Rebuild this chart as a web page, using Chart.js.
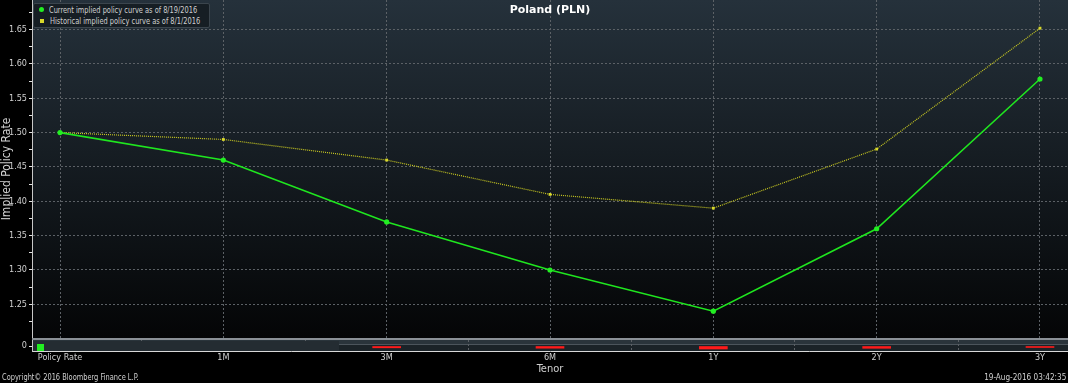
<!DOCTYPE html>
<html>
<head>
<meta charset="utf-8">
<script src="https://cdn.jsdelivr.net/npm/chart.js@4/dist/chart.umd.min.js"></script>
<style>
  html, body { margin: 0; padding: 0; background: #000; }
  body { width: 1068px; height: 383px; overflow: hidden; position: relative;
         font-family: "DejaVu Sans Condensed", sans-serif; color: #d0d0d0; }
  #top { position: absolute; left: 0; top: 0; width: 1068px; height: 338px; }
  #band { position: absolute; left: 32px; top: 338px; width: 1036px; height: 2px; background: #8a9096; }
  #bot { position: absolute; left: 0; top: 340px; width: 1068px; height: 36px; }
  .nar { display: inline-block; transform: scaleX(0.82); transform-origin: 0 50%; white-space: nowrap; }
  #legend { position: absolute; left: 33px; top: 3px; width: 177px; height: 25px;
            background: #161e24; border: 1px solid #3b454d; border-radius: 2px;
            font-size: 9px; line-height: 11px; padding: 1px 0 0 5px; box-sizing: border-box; }
  #legend .row { white-space: nowrap; height: 11px; }
  #legend .dot { display: inline-block; width: 5px; height: 5px; border-radius: 50%;
                 background: #22ee22; margin-right: 5px; vertical-align: 1px; }
  #legend .sq { display: inline-block; width: 4px; height: 4px; background: #d8d82a;
                margin: 0 6px 0 1px; vertical-align: 1px; }
  #chg { position: absolute; left: 33px; top: 341px; width: 306px; height: 10px; overflow: hidden;
         background: #242c32; font-size: 9px; line-height: 10px; padding-left: 4px; box-sizing: border-box; }
  #chg .sw { display: inline-block; width: 7px; height: 7px; background: #22ee22; margin-right: 4px;
             position: relative; top: 3px; vertical-align: top; }
  #chg .t { position: relative; top: 5px; vertical-align: top; }
  #copy { position: absolute; left: 2px; top: 372px; font-size: 9px; }
  #stamp { position: absolute; right: 2px; top: 372px; font-size: 9px; text-align: right; }
  #stamp .nar { transform-origin: 100% 50%; transform: scaleX(0.9); }
</style>
</head>
<body>
<div id="top"><canvas id="c1"></canvas></div>
<div id="band"></div>
<div id="bot"><canvas id="c2"></canvas></div>
<div id="legend">
  <div class="row"><span class="dot"></span><span class="nar">Current implied policy curve as of 8/19/2016</span></div>
  <div class="row"><span class="sq"></span><span class="nar">Historical implied policy curve as of 8/1/2016</span></div>
</div>
<div id="chg"><span class="sw"></span><span class="t nar">Change in implied policy between current and historical selected date (Basis Points)</span></div>
<div id="copy"><span class="nar">Copyright© 2016 Bloomberg Finance L.P.</span></div>
<div id="stamp"><span class="nar">19-Aug-2016 03:42:35</span></div>
<script>
// tenors along the x axis
const tenors = ["Policy Rate", "1M", "3M", "6M", "1Y", "2Y", "3Y"];
// implied policy rate (%)
const current = [1.50, 1.46, 1.37, 1.30, 1.24, 1.36, 1.578];
const historical = [1.50, 1.49, 1.46, 1.41, 1.39, 1.476, 1.652];
// change current - historical (basis points)
const changeBp = [0, -3, -9, -11, -15, -11.5, -7.4];
const yTicks = [1.25, 1.30, 1.35, 1.40, 1.45, 1.50, 1.55, 1.60, 1.65];

const FONT = "'DejaVu Sans Condensed', sans-serif";
const TXT = "#d0d0d0";
const GRID = "#5c6166";
const X_MIN = -0.1715, X_MAX = 6.1715;

const pts = arr => arr.map((v, i) => ({ x: i, y: v }));
// no label overhang padding, y axis pinned to 32px
const noPad = s => { s.paddingTop = 0; s.paddingBottom = 0; s.paddingLeft = 0; s.paddingRight = 0; };
const fixWidth = s => { s.width = 32; noPad(s); };
const catTicks = s => { s.ticks = tenors.map((_, i) => ({ value: i })); };

const plotBg = {
  id: "plotBg",
  beforeDraw(chart) {
    const { ctx, chartArea: a } = chart;
    const g = ctx.createLinearGradient(0, a.top, 0, a.bottom);
    g.addColorStop(0, "#25313b");
    g.addColorStop(1, "#040506");
    ctx.save();
    ctx.fillStyle = g;
    ctx.fillRect(a.left, a.top, a.right - a.left, a.bottom - a.top);
    ctx.restore();
  },
  afterDraw(chart) {
    const { ctx, chartArea: a } = chart;
    ctx.save();
    ctx.fillStyle = "#ffffff";
    ctx.font = "bold 11px 'DejaVu Sans', sans-serif";
    ctx.textAlign = "center";
    ctx.textBaseline = "middle";
    ctx.fillText("Poland (PLN)", (a.left + a.right) / 2, 10);
    ctx.restore();
  }
};

new Chart(document.getElementById("c1"), {
  type: "line",
  data: {
    datasets: [
      {
        label: "Current implied policy curve as of 8/19/2016",
        data: pts(current),
        borderColor: "#1fe61f",
        backgroundColor: "#22ee22",
        borderWidth: 1.6,
        pointRadius: 2.6,
        pointBorderWidth: 0,
        tension: 0
      },
      {
        label: "Historical implied policy curve as of 8/1/2016",
        data: pts(historical),
        borderColor: "#c9c922",
        backgroundColor: "#d8d82a",
        borderWidth: 1.2,
        borderDash: [1, 1],
        pointStyle: "rect",
        pointRadius: 2,
        pointBorderWidth: 0,
        tension: 0
      }
    ]
  },
  options: {
    responsive: true,
    maintainAspectRatio: false,
    animation: false,
    layout: { padding: 0, autoPadding: false },
    plugins: { legend: { display: false }, tooltip: { enabled: false } },
    scales: {
      x: {
        type: "linear",
        min: X_MIN,
        max: X_MAX,
        afterBuildTicks: catTicks,
        afterFit: s => { s.height = 0; noPad(s); },
        ticks: { display: false },
        grid: { color: GRID, drawTicks: false },
        border: { display: false, dash: [2, 2] }
      },
      y: {
        min: 1.201,
        max: 1.693,
        afterFit: fixWidth,
        afterBuildTicks: s => {
          const t = [];
          for (let v = 1.225; v < 1.69; v += 0.025) t.push({ value: Math.round(v * 1000) / 1000 });
          s.ticks = t;
        },
        ticks: {
          color: TXT,
          font: { family: FONT, size: 9 },
          padding: 2,
          callback: v => (yTicks.some(t => Math.abs(t - v) < 1e-6) ? v.toFixed(2) : "")
        },
        grid: {
          color: c => (yTicks.some(t => Math.abs(t - c.tick.value) < 1e-6) ? GRID : "rgba(0,0,0,0)"),
          tickColor: "#e0e0e0",
          tickLength: 3
        },
        border: { color: "#c8c8c8", width: 1, dash: [2, 2] },
        title: {
          display: true,
          text: "Implied Policy Rate",
          color: TXT,
          font: { family: FONT, size: 12 },
          padding: 0
        }
      }
    }
  },
  plugins: [plotBg]
});

const panelBg = {
  id: "panelBg",
  beforeDraw(chart) {
    const { ctx, chartArea: a } = chart;
    ctx.save();
    ctx.fillStyle = "#2a343b";
    ctx.fillRect(a.left, a.top, a.right - a.left, 4);
    ctx.fillStyle = "#4c555c";
    ctx.fillRect(a.left, a.top + 4, a.right - a.left, 1);
    ctx.fillStyle = "#1b2328";
    ctx.fillRect(a.left, a.top + 5, a.right - a.left, a.bottom - a.top - 5);
    ctx.restore();
  }
};

new Chart(document.getElementById("c2"), {
  type: "bar",
  data: {
    datasets: [{
      label: "Change in implied policy between current and historical selected date (Basis Points)",
      data: pts(changeBp),
      backgroundColor: "#ff1a1a",
      barThickness: 28,
      borderWidth: 0
    }]
  },
  options: {
    responsive: true,
    maintainAspectRatio: false,
    animation: false,
    layout: { padding: 0, autoPadding: false },
    plugins: { legend: { display: false }, tooltip: { enabled: false } },
    scales: {
      x: {
        type: "linear",
        min: X_MIN,
        max: X_MAX,
        offset: false,
        afterBuildTicks: catTicks,
        afterFit: s => { s.height = 25; noPad(s); },
        ticks: {
          color: TXT,
          font: { family: FONT, size: 9 },
          padding: 1,
          maxRotation: 0,
          autoSkip: false,
          callback: v => tenors[v]
        },
        grid: { color: GRID, drawTicks: false },
        border: { color: "#d8d8d8", width: 1, dash: [2, 2] },
        title: {
          display: true,
          text: "Tenor",
          color: TXT,
          font: { family: FONT, size: 11 },
          padding: 0
        }
      },
      y: {
        min: -25,
        max: 30,
        afterFit: fixWidth,
        afterBuildTicks: s => { s.ticks = [{ value: 0 }]; },
        ticks: { color: TXT, font: { family: FONT, size: 9 }, padding: 2 },
        grid: { display: true, drawOnChartArea: false, tickColor: "#e0e0e0", tickLength: 3 },
        border: { color: "#c8c8c8", width: 1 }
      }
    }
  },
  plugins: [panelBg]
});
</script>
</body>
</html>
